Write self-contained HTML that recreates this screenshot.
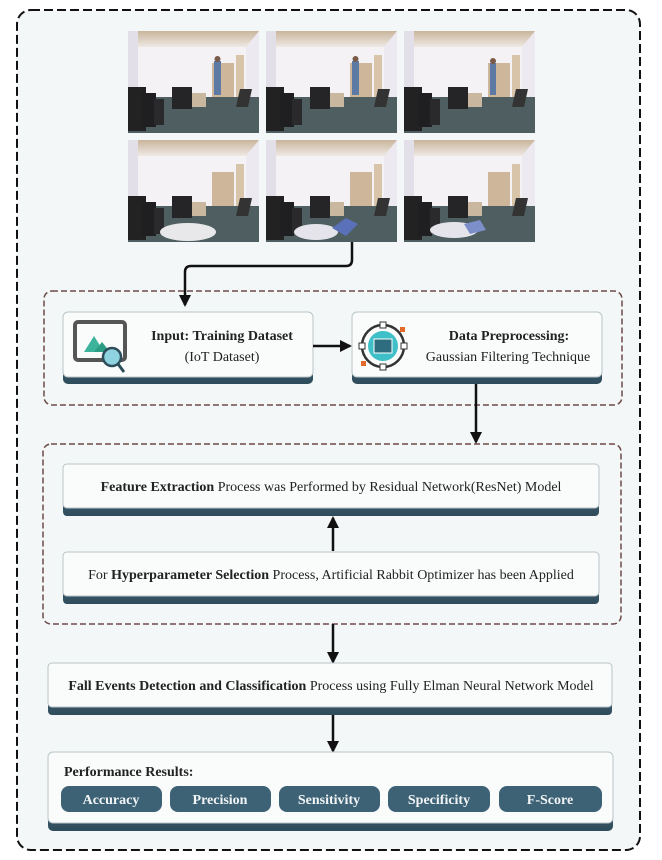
<!DOCTYPE html>
<html><head><meta charset="utf-8"><style>
html,body{margin:0;padding:0;background:#fff;}
svg{display:block;font-family:"Liberation Serif",serif;}
</style></head><body>
<svg width="662" height="860" viewBox="0 0 662 860" xmlns="http://www.w3.org/2000/svg">
<defs>
<linearGradient id="ceil" x1="0" y1="0" x2="0" y2="1"><stop offset="0" stop-color="#c9b59b"/><stop offset="1" stop-color="#efe9e4"/></linearGradient>
<linearGradient id="bar" x1="0" y1="0" x2="0" y2="1"><stop offset="0" stop-color="#5c8092"/><stop offset="1" stop-color="#2f4c5c"/></linearGradient>
<marker id="ah" markerWidth="12" markerHeight="12" refX="10" refY="6" orient="auto" markerUnits="userSpaceOnUse"><path d="M0,0 L12,6 L0,12 z" fill="#111"/></marker>
<g id="room">
<rect x="0" y="0" width="131" height="102" fill="#eceaf0"/>
<polygon points="0,0 131,0 118,16 10,16" fill="url(#ceil)"/>
<rect x="10" y="16" width="108" height="50" fill="#f4f2f4"/>
<rect x="0" y="0" width="10" height="102" fill="#e2dfe9"/>
<rect x="84" y="32" width="22" height="38" fill="#cdb69a"/>
<rect x="108" y="24" width="8" height="46" fill="#d8c4a8"/>
<polygon points="0,66 131,66 131,102 0,102" fill="#4f5e60"/>
<rect x="0" y="56" width="18" height="44" fill="#222"/>
<rect x="14" y="62" width="14" height="34" fill="#1f1f22"/>
<rect x="26" y="68" width="10" height="26" fill="#2a2a2c"/>
<rect x="44" y="56" width="20" height="22" fill="#252528"/>
<rect x="64" y="62" width="14" height="14" fill="#c9b79f"/>
<polygon points="112,58 124,58 120,76 108,76" fill="#333"/>
</g>
</defs>
<rect x="17" y="10" width="623" height="840" rx="14" fill="#f3f7f7" stroke="#111" stroke-width="2" stroke-dasharray="9,4"/>

<g transform="translate(128,31)"><use href="#room"/><rect x="86" y="30" width="7" height="34" fill="#5d7aa5"/><circle cx="89.5" cy="28" r="3" fill="#7a5a48"/></g>
<g transform="translate(266,31)"><use href="#room"/><rect x="86" y="30" width="7" height="34" fill="#5d7aa5"/><circle cx="89.5" cy="28" r="3" fill="#7a5a48"/></g>
<g transform="translate(404,31)"><use href="#room"/><rect x="86" y="32" width="6" height="32" fill="#5d7aa5"/><circle cx="89" cy="30" r="3" fill="#7a5a48"/></g>
<g transform="translate(128,140)"><use href="#room"/><ellipse cx="60" cy="92" rx="28" ry="9" fill="#e8e8ea"/></g>
<g transform="translate(266,140)"><use href="#room"/><ellipse cx="50" cy="92" rx="22" ry="8" fill="#e4e4ea"/><polygon points="66,88 80,78 92,84 80,96" fill="#5a70b8"/></g>
<g transform="translate(404,140)"><use href="#room"/><ellipse cx="50" cy="90" rx="24" ry="8" fill="#e4e4ea"/><polygon points="60,84 76,80 82,90 66,94" fill="#7d8fc8"/></g>

<path d="M352,242 L352,260 Q352,266 346,266 L191,266 Q185,266 185,272 L185,305" fill="none" stroke="#111" stroke-width="2.5" marker-end="url(#ah)"/>

<rect x="44" y="291" width="578" height="114" rx="8" fill="none" stroke="#6e4a4a" stroke-width="1.5" stroke-dasharray="6,3"/>
<rect x="63" y="312" width="250" height="72" rx="5" fill="url(#bar)"/>
<rect x="63" y="312" width="250" height="65" rx="5" fill="#fafbfb" stroke="#b9c4c8"/>
<rect x="75" y="322" width="50" height="38" rx="3" fill="none" stroke="#555" stroke-width="4"/>
<polygon points="84,352 94,336 104,352" fill="#3cb39b"/><polygon points="94,352 102,342 110,352" fill="#2a9d84"/>
<circle cx="112" cy="357" r="9" fill="#8ed3df" stroke="#2d4d5a" stroke-width="2.5"/><line x1="118" y1="364" x2="124" y2="372" stroke="#2d4d5a" stroke-width="3"/>
<text x="222" y="340" font-size="14" font-weight="bold" text-anchor="middle" fill="#222">Input: Training Dataset</text>
<text x="222" y="361" font-size="14" text-anchor="middle" fill="#222">(IoT Dataset)</text>
<line x1="313" y1="346" x2="350" y2="346" stroke="#111" stroke-width="2.5" marker-end="url(#ah)"/>
<rect x="352" y="312" width="250" height="72" rx="5" fill="url(#bar)"/>
<rect x="352" y="312" width="250" height="65" rx="5" fill="#fafbfb" stroke="#b9c4c8"/>
<circle cx="383" cy="346" r="21" fill="none" stroke="#333" stroke-width="2.5"/>
<circle cx="383" cy="346" r="15" fill="#3fc0c8"/>
<rect x="374" y="339" width="18" height="14" fill="#2e6d80" stroke="#fff" stroke-width="1"/>
<rect x="380" y="322" width="6" height="6" fill="#fff" stroke="#333"/><rect x="380" y="364" width="6" height="6" fill="#fff" stroke="#333"/>
<rect x="359" y="343" width="6" height="6" fill="#fff" stroke="#333"/><rect x="401" y="343" width="6" height="6" fill="#fff" stroke="#333"/>
<rect x="400" y="327" width="5" height="5" fill="#e36a2a"/><rect x="361" y="361" width="5" height="5" fill="#e36a2a"/>
<text x="509" y="340" font-size="14" font-weight="bold" text-anchor="middle" fill="#222">Data Preprocessing:</text>
<text x="508" y="361" font-size="14" text-anchor="middle" fill="#222">Gaussian Filtering Technique</text>
<line x1="476" y1="384" x2="476" y2="442" stroke="#111" stroke-width="2.5" marker-end="url(#ah)"/>

<rect x="43" y="444" width="578" height="180" rx="8" fill="none" stroke="#6e4a4a" stroke-width="1.5" stroke-dasharray="6,3"/>
<rect x="63" y="464" width="536" height="52" rx="4" fill="url(#bar)"/>
<rect x="63" y="464" width="536" height="44" rx="4" fill="#fafbfb" stroke="#b9c4c8"/>
<text x="331" y="491" font-size="14" text-anchor="middle" fill="#222"><tspan font-weight="bold">Feature Extraction</tspan> Process was Performed by Residual Network(ResNet) Model</text>
<line x1="333" y1="551" x2="333" y2="518" stroke="#111" stroke-width="2.5" marker-end="url(#ah)"/>
<rect x="63" y="552" width="536" height="52" rx="4" fill="url(#bar)"/>
<rect x="63" y="552" width="536" height="44" rx="4" fill="#fafbfb" stroke="#b9c4c8"/>
<text x="331" y="579" font-size="14" text-anchor="middle" fill="#222">For <tspan font-weight="bold">Hyperparameter Selection</tspan> Process, Artificial Rabbit Optimizer has been Applied</text>

<line x1="333" y1="624" x2="333" y2="662" stroke="#111" stroke-width="2.5" marker-end="url(#ah)"/>
<rect x="48" y="663" width="564" height="52" rx="4" fill="url(#bar)"/>
<rect x="48" y="663" width="564" height="44" rx="4" fill="#fafbfb" stroke="#b9c4c8"/>
<text x="331" y="690" font-size="14" text-anchor="middle" fill="#222"><tspan font-weight="bold">Fall Events Detection and Classification</tspan> Process using Fully Elman Neural Network Model</text>

<line x1="333" y1="715" x2="333" y2="751" stroke="#111" stroke-width="2.5" marker-end="url(#ah)"/>
<rect x="48" y="752" width="565" height="79" rx="5" fill="url(#bar)"/>
<rect x="48" y="752" width="565" height="71" rx="5" fill="#fafbfb" stroke="#b9c4c8"/>
<text x="64" y="776" font-size="14" font-weight="bold" fill="#222">Performance Results:</text>
<g font-size="14" font-weight="bold" fill="#f2f5f6" text-anchor="middle">
<rect x="61" y="786" width="101" height="26" rx="8" fill="#3d6276"/><text x="111" y="804">Accuracy</text>
<rect x="170" y="786" width="101" height="26" rx="8" fill="#3d6276"/><text x="220" y="804">Precision</text>
<rect x="279" y="786" width="101" height="26" rx="8" fill="#3d6276"/><text x="329" y="804">Sensitivity</text>
<rect x="388" y="786" width="102" height="26" rx="8" fill="#3d6276"/><text x="439" y="804">Specificity</text>
<rect x="499" y="786" width="103" height="26" rx="8" fill="#3d6276"/><text x="550" y="804">F-Score</text>
</g>
</svg>
</body></html>
